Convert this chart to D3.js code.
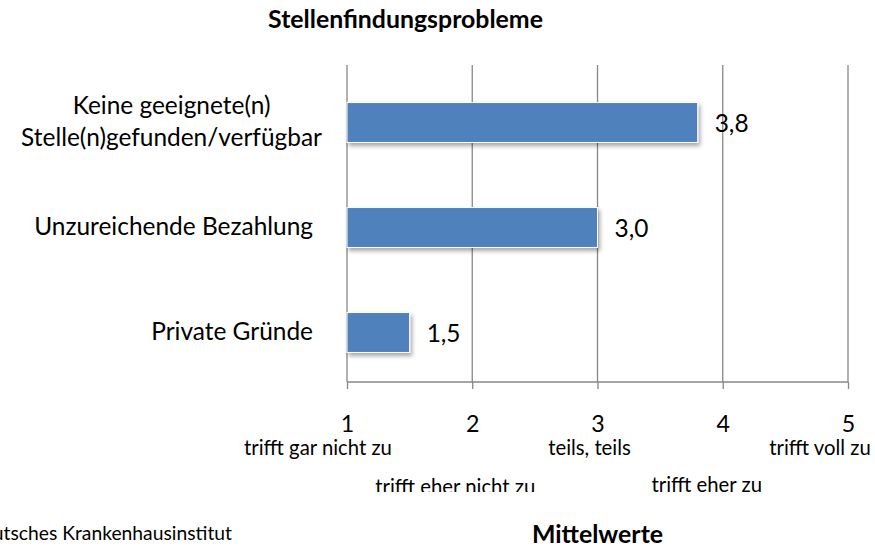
<!DOCTYPE html>
<html>
<head>
<meta charset="utf-8">
<script src="https://cdn.jsdelivr.net/npm/d3@7"></script>
<style>
  body { margin: 0; background: #fff; }
  svg { display: block; }
</style>
</head>
<body>
<svg id="chart"></svg>
<script>
const width = 875;
const height = 549;

// data ------------------------------------------
const categories = [
    ['Keine geeignete(n)', 'Stelle(n)gefunden/verfügbar'],
    ['Unzureichende Bezahlung'],
    ['Private Gründe'],
];
const values = [3.8, 3.0, 1.5];
const valueLabels = ['3,8', '3,0', '1,5'];
const ticks = [1, 2, 3, 4, 5];
const tickLabels = ['trifft gar nicht zu', 'trifft eher nicht zu', 'teils, teils', 'trifft eher zu', 'trifft voll zu'];

// layout ----------------------------------------
const plot = { left: 347, right: 848, top: 65, bottom: 382 };
const labelShift = [-29, -17, -8, -16, -28];   // scale text boxes sit a bit off their ticks
const labelBase = [455, 494, 455, 492, 455];
const font = 'Lato, "Open Sans", sans-serif';

const svg = d3.select('svg#chart')
    .attr('width', width)
    .attr('height', height);

// scale a text's font-size so that it is as wide as the reference
function fit(sel, target) {
    const fs = parseFloat(sel.style('font-size'));
    const w = sel.node().getComputedTextLength();
    return fs * target / w;
}

const defs = svg.append('defs');
const shadow = defs.append('filter')
    .attr('id', 'shadow')
    .attr('x', '-10%').attr('y', '-30%')
    .attr('width', '130%').attr('height', '180%');
shadow.append('feDropShadow')
    .attr('dx', 2).attr('dy', 3)
    .attr('stdDeviation', 2)
    .attr('flood-color', '#000')
    .attr('flood-opacity', 0.35);
defs.append('clipPath')
    .attr('id', 'cut')
    .append('rect')
    .attr('x', 0).attr('y', 0)
    .attr('width', width).attr('height', 492);

const x = d3.scaleLinear()
    .domain([1, 5])
    .range([plot.left, plot.right]);

const y = d3.scaleBand()
    .domain(d3.range(categories.length))
    .range([70, 385])
    .paddingInner(0.62)
    .paddingOuter(0.31);

// font sizes measured against the reference widths
const probe = svg.append('text').style('font-family', font).style('font-size', '20px');
const bigSize = fit(probe.text('Unzureichende Bezahlung'), 279);
const smallSize = fit(probe.text('trifft gar nicht zu'), 148);
probe.style('font-weight', 'bold');
const titleSize = fit(probe.text('Stellenfindungsprobleme'), 275);
probe.remove();

// title
svg.append('text')
    .text('Stellenfindungsprobleme')
    .attr('x', 405.5)
    .attr('y', 28)
    .attr('text-anchor', 'middle')
    .style('font-family', font)
    .style('font-weight', 'bold')
    .style('font-size', titleSize + 'px')
    .style('fill', '#000');

// gridlines
svg.append('g')
    .selectAll('line')
    .data(ticks)
    .enter()
    .append('line')
    .attr('x1', d => x(d)).attr('x2', d => x(d))
    .attr('y1', plot.top).attr('y2', plot.bottom)
    .style('stroke', '#878787')
    .style('stroke-width', 1.3);

// axis line + ticks + numbers
const axis = svg.append('g')
    .attr('transform', `translate(0,${plot.bottom})`)
    .call(d3.axisBottom(x).tickValues(ticks).tickSize(7).tickFormat(d => d));
axis.select('.domain')
    .attr('d', `M${plot.left},0H${plot.right}`)
    .style('stroke', '#878787')
    .style('stroke-width', 1.3);
axis.selectAll('.tick line').style('stroke', '#878787').style('stroke-width', 1.3);
axis.selectAll('.tick text')
    .attr('y', 50)
    .attr('dy', 0)
    .style('font-family', font)
    .style('font-size', (bigSize * 0.95) + 'px')
    .style('fill', '#000');

// bars
svg.append('g')
    .selectAll('rect')
    .data(values)
    .enter()
    .append('rect')
    .attr('x', x(1))
    .attr('y', (d, i) => y(i))
    .attr('width', d => x(d) - x(1))
    .attr('height', y.bandwidth())
    .style('fill', '#4f81bd')
    .style('stroke', '#ffffff')
    .style('stroke-width', 1)
    .attr('filter', 'url(#shadow)');

// value labels
svg.append('g')
    .selectAll('text')
    .data(values)
    .enter()
    .append('text')
    .text((d, i) => valueLabels[i])
    .attr('x', d => x(d) + 17)
    .attr('y', (d, i) => y(i) + y.bandwidth() / 2)
    .attr('dy', '0.4em')
    .style('font-family', font)
    .style('font-size', bigSize + 'px')
    .style('fill', '#000');

// category labels
const lineH = 32;
categories.forEach((lines, i) => {
    const t = svg.append('text')
        .attr('text-anchor', 'middle')
        .style('font-family', font)
        .style('font-size', bigSize + 'px')
        .style('fill', '#000');
    const cy = y(i) + y.bandwidth() / 2;
    const spans = lines.map((line, j) =>
        t.append('tspan')
            .text(line)
            .attr('y', cy + (j - (lines.length - 1) / 2) * lineH)
            .attr('dy', '0.3em')
    );
    const right = lines.length > 1 ? 322 : 313;
    const maxW = d3.max(spans, s => s.node().getComputedTextLength());
    spans.forEach(s => s.attr('x', right - maxW / 2));
});

// scale descriptions under the ticks
svg.append('g')
    .selectAll('text')
    .data(tickLabels)
    .enter()
    .append('text')
    .text(d => d)
    .attr('x', (d, i) => x(ticks[i]) + labelShift[i])
    .attr('y', (d, i) => labelBase[i])
    .attr('text-anchor', 'middle')
    .attr('clip-path', (d, i) => i === 1 ? 'url(#cut)' : null)
    .style('font-family', font)
    .style('font-size', smallSize + 'px')
    .style('fill', '#000');

// footer
svg.append('text')
    .text('Deutsches Krankenhausinstitut')
    .attr('x', 232)
    .attr('y', 540)
    .attr('text-anchor', 'end')
    .style('font-family', font)
    .style('font-size', (smallSize * 0.95) + 'px')
    .style('fill', '#000');

svg.append('text')
    .text('Mittelwerte')
    .attr('x', x(3))
    .attr('y', 543)
    .attr('text-anchor', 'middle')
    .style('font-family', font)
    .style('font-weight', 'bold')
    .style('font-size', titleSize + 'px')
    .style('fill', '#000');
</script>
</body>
</html>
